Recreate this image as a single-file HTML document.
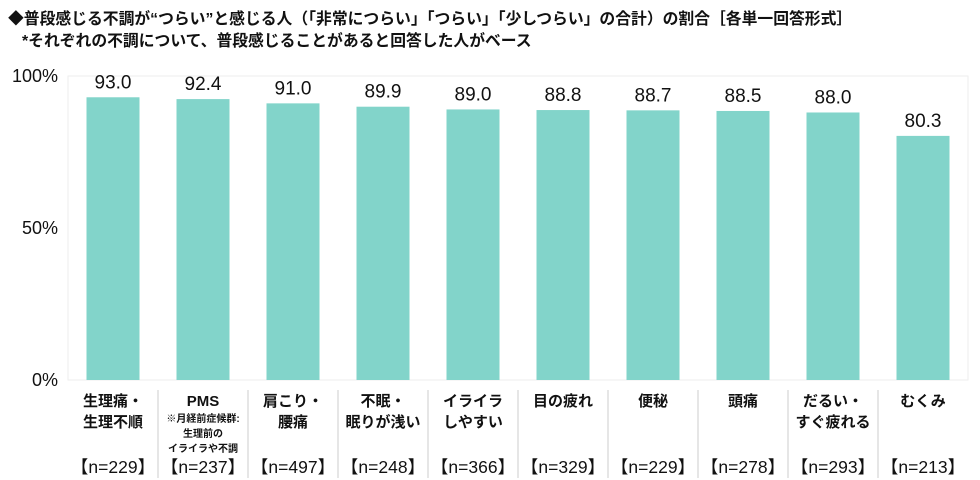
<!DOCTYPE html>
<html><head><meta charset="utf-8">
<style>
body{margin:0;background:#fff;width:980px;height:480px;overflow:hidden;font-family:"Liberation Sans","Noto Sans CJK JP",sans-serif;color:#111}
.t{position:absolute;left:8px;font-size:15.8px;font-weight:bold;white-space:nowrap}
</style></head><body>
<div class="t" style="top:6px">◆普段感じる不調が“つらい”と感じる人（「非常につらい」「つらい」「少しつらい」の合計）の割合［各単一回答形式］</div>
<div class="t" style="top:28px;left:22px">*それぞれの不調について、普段感じることがあると回答した人がベース</div>
<svg id="c" width="980" height="480" style="position:absolute;left:0;top:0"></svg>
<script>
const categories=[["生理痛・","生理不順"],["PMS"],["肩こり・","腰痛"],["不眠・","眠りが浅い"],["イライラ","しやすい"],["目の疲れ"],["便秘"],["頭痛"],["だるい・","すぐ疲れる"],["むくみ"]];
const values=[93.0,92.4,91.0,89.9,89.0,88.8,88.7,88.5,88.0,80.3];
const counts=[229,237,497,248,366,329,229,278,293,213];
const ticks=[0,50,100];
const svg=document.getElementById('c');const NS='http://www.w3.org/2000/svg';
const x0=68,x1=968,yTop=76,yBot=380;
const bw=(x1-x0)/values.length;
const y=v=>yBot-(v/100)*(yBot-yTop);
function mk(t,a,p){const e=document.createElementNS(NS,t);for(const k in a)e.setAttribute(k,a[k]);(p||svg).appendChild(e);return e;}
const frame=mk('rect',{x:x0,y:yTop,width:x1-x0,height:yBot-yTop,fill:'none',stroke:'#eeeeee'});


ticks.forEach(t=>{const e=mk('text',{x:58,y:y(t)+6,'text-anchor':'end','font-size':18,fill:'#111'});e.textContent=t+'%';

});
values.forEach((v,i)=>{const cx=x0+bw*(i+0.5);
const r=mk('rect',{x:cx-26.5,y:y(v),width:53,height:yBot-y(v),fill:'#82d4ca'});


const l=mk('text',{x:cx,y:y(v)-9,'text-anchor':'middle','font-size':19,fill:'#111'});l.textContent=v.toFixed(1);


const cat=categories[i];
cat.forEach((s,j)=>{const e=mk('text',{x:cx,y:406+j*21,'text-anchor':'middle','font-size':15,'font-weight':'bold',fill:'#111'});e.textContent=s;

});
if(i===1){["※月経前症候群:","生理前の","イライラや不調"].forEach((s,j)=>{const e=mk('text',{x:cx,y:422+j*15,'text-anchor':'middle','font-size':10,'font-weight':'bold',fill:'#111'});e.textContent=s;

});}
const n=mk('text',{x:cx,y:473,'text-anchor':'middle','font-size':17.5,fill:'#111'});n.textContent='【n='+counts[i]+'】';


if(i>0){const s=mk('line',{x1:x0+bw*i,x2:x0+bw*i,y1:390,y2:478,stroke:'#cccccc'});

}
});
</script>
</body></html>
